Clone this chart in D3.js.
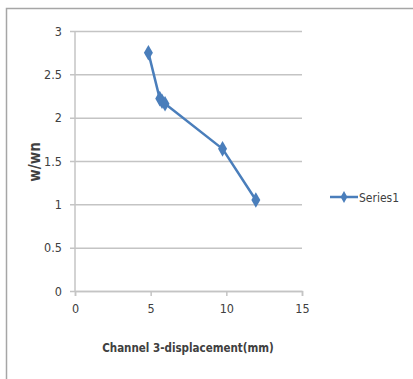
<!DOCTYPE html>
<html>
<head>
<meta charset="utf-8">
<script src="https://cdn.jsdelivr.net/npm/d3@7"></script>
<style>
  html, body { margin: 0; padding: 0; background: #fff; }
  svg { display: block; }
  text { font-family: "Liberation Sans Narrow", "DejaVu Sans Condensed", "Liberation Sans", sans-serif; }
</style>
</head>
<body>
<svg id="chart" width="413" height="379"></svg>
<script>
// Channel 3 displacement (mm) against frequency ratio w/wn
const displacement = [4.85, 5.6, 5.75, 5.95, 9.75, 11.95];
const freqRatio = [2.75, 2.22, 2.19, 2.16, 1.64, 1.05];
const xTicks = [0, 5, 10, 15];
const yTicks = [0, 0.5, 1, 1.5, 2, 2.5, 3];
const seriesName = "Series1";
const xTitle = "Channel 3-displacement(mm)";
const yTitle = "w/wn";

const svg = d3.select("#chart");
const blue = "#4a7ebb";
const grid = "#c4c4c4";

// outer frame of the chart area
svg.append("rect")
  .attr("x", 6.5).attr("y", 8.5)
  .attr("width", 420).attr("height", 380)
  .attr("fill", "#fff").attr("stroke", "#a6a6a6").attr("stroke-width", 1.5);

const x = d3.scaleLinear().domain([0, 15]).range([75, 302]);
const y = d3.scaleLinear().domain([0, 3]).range([291, 31]);

// horizontal gridlines with y tick labels
const yAxis = d3.axisLeft(y).tickValues(yTicks).tickSize(302 - 70).tickPadding(8)
  .tickFormat(d3.format("~g"));
const gy = svg.append("g").attr("transform", "translate(302,0)").call(yAxis);
gy.select(".domain").remove();
gy.selectAll(".tick line").attr("stroke", grid).attr("stroke-width", 1.5);
gy.selectAll(".tick text").attr("fill", "#404040").attr("font-size", 12.5);

// vertical axis line
svg.append("line")
  .attr("x1", x(0)).attr("x2", x(0)).attr("y1", y(3)).attr("y2", y(0))
  .attr("stroke", grid).attr("stroke-width", 1.5);

// x axis with downward ticks
const xAxis = d3.axisBottom(x).tickValues(xTicks).tickSize(5).tickPadding(8);
const gx = svg.append("g").attr("transform", `translate(0,${y(0)})`).call(xAxis);
gx.select(".domain").attr("stroke", grid).attr("stroke-width", 1.5);
gx.selectAll(".tick line").attr("stroke", grid).attr("stroke-width", 1.5);
gx.selectAll(".tick text").attr("fill", "#404040").attr("font-size", 12.5);

// axis titles
svg.append("text")
  .attr("x", 188).attr("y", 352)
  .attr("text-anchor", "middle").attr("font-size", 11.5).attr("font-weight", "bold")
  .attr("fill", "#404040").text(xTitle);
svg.append("text")
  .attr("transform", "translate(40,162) rotate(-90)")
  .attr("text-anchor", "middle").attr("font-size", 15).attr("font-weight", "bold")
  .attr("fill", "#404040").text(yTitle);

// data series
const pts = displacement.map((d, i) => [d, freqRatio[i]]);
svg.append("path")
  .datum(pts)
  .attr("fill", "none").attr("stroke", blue).attr("stroke-width", 2.5)
  .attr("stroke-linejoin", "round")
  .attr("d", d3.line().x(d => x(d[0])).y(d => y(d[1])));

const diamond = d3.symbol().type(d3.symbolDiamond).size(70);
svg.selectAll("path.marker").data(pts).enter().append("path")
  .attr("class", "marker")
  .attr("transform", d => `translate(${x(d[0])},${y(d[1])})`)
  .attr("d", diamond).attr("fill", blue);

// legend
const lg = svg.append("g").attr("transform", "translate(330,197)");
lg.append("line").attr("x1", 0).attr("x2", 28).attr("y1", 0).attr("y2", 0)
  .attr("stroke", blue).attr("stroke-width", 2.5);
lg.append("path").attr("transform", "translate(14,0)")
  .attr("d", d3.symbol().type(d3.symbolDiamond).size(40)).attr("fill", blue);
lg.append("text").attr("x", 29).attr("y", 4.5).attr("font-size", 12)
  .attr("fill", "#404040").text(seriesName);
</script>
</body>
</html>
